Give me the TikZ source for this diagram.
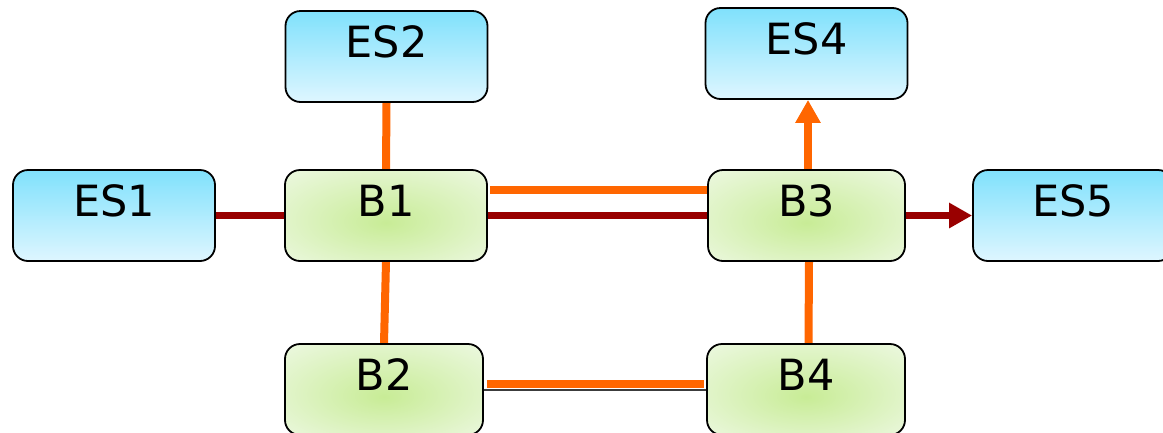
\documentclass[tikz,border=0pt]{standalone}
\usepackage{fontspec}
\setmainfont{DejaVu Sans}
\usetikzlibrary{arrows.meta,backgrounds}

\definecolor{skytop}{RGB}{128,225,252}
\definecolor{skybot}{RGB}{222,246,255}
\definecolor{leafin}{RGB}{200,236,150}
\definecolor{leafout}{RGB}{236,248,224}
\definecolor{link}{RGB}{255,102,0}
\definecolor{trunk}{RGB}{153,0,0}
\definecolor{thinlink}{RGB}{60,60,60}

% soft green glow, centred a little below the middle of the box
\pgfdeclareradialshading{leafglow}{\pgfpoint{0bp}{-4bp}}{color(0bp)=(leafin); color(36bp)=(leafout); color(50bp)=(leafout)}

\tikzset{
  box/.style={draw=black, line width=1.8pt, rounded corners=15pt,
    minimum width=202pt, minimum height=91pt, inner sep=0pt,
    font=\fontsize{43}{43}\selectfont, text height=31pt, text depth=29pt},
  endsys/.style={box, top color=skytop, bottom color=skybot},
  bridge/.style={box, shade, shading=leafglow},
  orangeline/.style={draw=link, line width=8pt},
  redline/.style={draw=trunk, line width=7pt},
  greyline/.style={draw=thinlink, line width=2pt},
  tip/.style={-{Triangle[width=24pt,length=23pt]}}
}

\begin{document}
\begin{tikzpicture}[x=1pt,y=-1pt]
  \useasboundingbox (0,0) rectangle (1163,432);
  \clip (0,0) rectangle (1163,432);

  % end systems
  \node[endsys] (ES2) at (386.5,56.5) {ES2};
  \node[endsys] (ES4) at (806.5,53.5) {ES4};
  \node[endsys] (ES1) at (114,215.5) {ES1};
  \node[endsys, minimum width=200pt] (ES5) at (1073,215.5) {ES5};

  % bridges
  \node[bridge] (B1) at (386,215.5) {B1};
  \node[bridge, minimum width=197pt] (B3) at (806.5,215.5) {B3};
  \node[bridge, minimum width=198pt] (B2) at (384,389.5) {B2};
  \node[bridge, minimum width=198pt] (B4) at (806,389.5) {B4};

  % links, drawn beneath the boxes
  \begin{scope}[on background layer]
    \draw[redline] (ES1) -- (B1);
    \draw[redline] (B1) -- (B3);
    \draw[orangeline, shorten <=2pt] ([yshift=26pt]B1.east) -- ([yshift=26pt]B3.west);
    \draw[orangeline] (ES2.south) -- (B1.north);
    \draw[orangeline] (B1.south) -- (B2.north);
    \draw[orangeline] ([xshift=2.5pt]B3.south) -- ([xshift=2.5pt]B4.north);
    \draw[greyline] (B2) -- (B4);
    \draw[orangeline, shorten <=3pt, shorten >=2pt] ([yshift=5.5pt]B2.east) -- ([yshift=5.5pt]B4.west);
  \end{scope}

  % directed links
  \draw[orangeline, tip, fill=link] ([xshift=1.5pt]B3.north) -- ([xshift=1.5pt]ES4.south);
  \draw[redline, tip, fill=trunk] (B3.east) -- (ES5.west);
\end{tikzpicture}
\end{document}
